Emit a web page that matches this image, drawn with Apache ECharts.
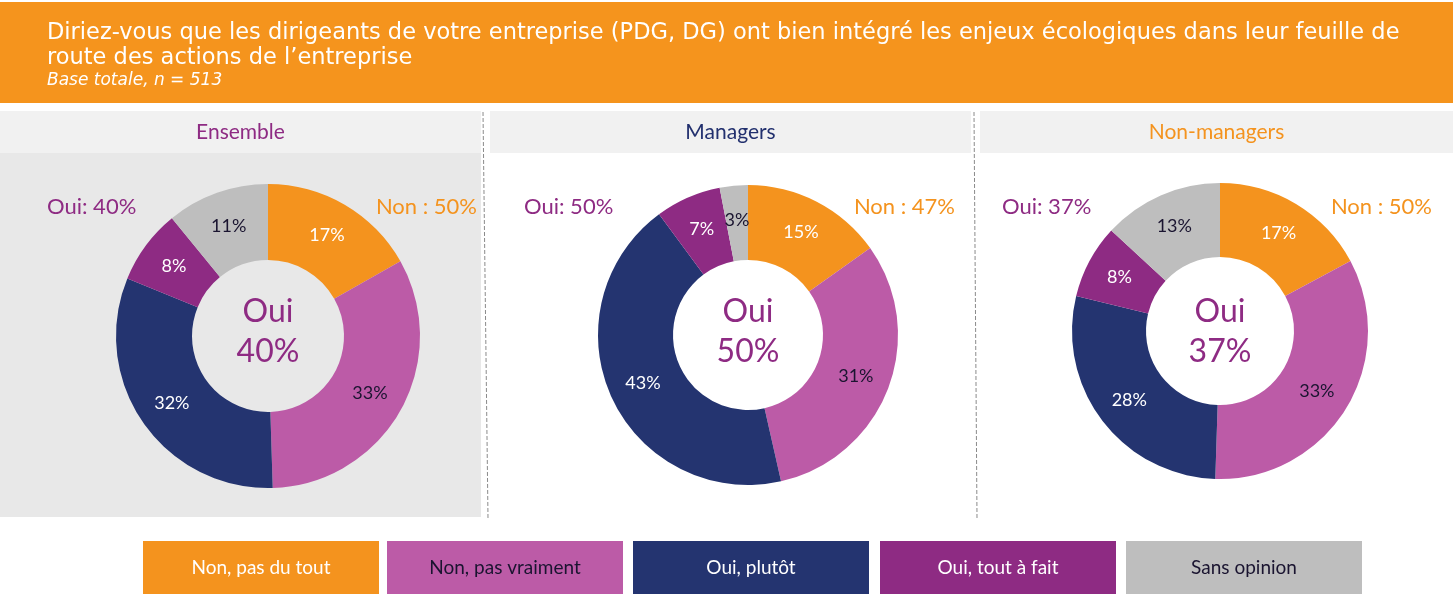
<!DOCTYPE html>
<html>
<head>
<meta charset="utf-8">
<script src="https://cdn.jsdelivr.net/npm/echarts@6/dist/echarts.min.js"></script>
<style>
html,body{margin:0;padding:0;background:#fff;}
#c{width:1453px;height:601px;}
</style>
</head>
<body>
<div id="c"></div>
<script>
const categories = ['Non, pas du tout', 'Non, pas vraiment', 'Oui, plutôt', 'Oui, tout à fait', 'Sans opinion'];
const groups = ['Ensemble', 'Managers', 'Non-managers'];
const ensembleValues = [17, 33, 32, 8, 11];
const managersValues = [15, 31, 43, 7, 3];
const nonManagersValues = [17, 33, 28, 8, 13];
const ouiTotals = [40, 50, 37];
const nonTotals = [50, 47, 50];
const titleLines = ['Diriez-vous que les dirigeants de votre entreprise (PDG, DG) ont bien intégré les enjeux écologiques dans leur feuille de', 'route des actions de l\u2019entreprise'];
const subtitle = 'Base totale, n = 513';

const colors = ['#F4931E', '#BC5BA7', '#243470', '#8E2B83', '#BEBEBE'];
const labelColors = ['#ffffff', '#1a1430', '#ffffff', '#ffffff', '#1a1430'];
const groupTitleColors = ['#8E2B83', '#22306E', '#F4931E'];
const FONT = 'Lato, "Open Sans", sans-serif';

const allValues = [ensembleValues, managersValues, nonManagersValues];
const panels = [
  {x: 0, w: 481, cx: 268, cy: 336, r0: 76, r: 152, bg: '#E8E8E8', ouiX: 47, nonX: 477},
  {x: 490, w: 481, cx: 748, cy: 335, r0: 75, r: 150, bg: '#FFFFFF', ouiX: 524, nonX: 955},
  {x: 980, w: 473, cx: 1220, cy: 331, r0: 74, r: 148, bg: '#FFFFFF', ouiX: 1002, nonX: 1432}
];

const chart = echarts.init(document.getElementById('c'), null, {renderer: 'canvas'});

const graphic = [];
// header band
graphic.push({type: 'rect', shape: {x: 0, y: 2, width: 1453, height: 101}, style: {fill: '#F5941D'}, z: 0});
titleLines.forEach((t, i) => {
  graphic.push({type: 'text', x: 47, y: 33 + i * 25, style: {text: t, fill: '#fff', font: '400 22.5px "DejaVu Sans", sans-serif', textVerticalAlign: 'middle'}, z: 1});
});
graphic.push({type: 'text', x: 47, y: 81, style: {text: subtitle, fill: '#fff', font: 'italic 400 17px "DejaVu Sans", sans-serif', textVerticalAlign: 'middle'}, z: 1});

panels.forEach((p, i) => {
  graphic.push({type: 'rect', shape: {x: p.x, y: 111, width: p.w, height: 406}, style: {fill: p.bg}, z: 0});
  graphic.push({type: 'rect', shape: {x: p.x, y: 111, width: p.w, height: 42}, style: {fill: '#F1F1F1'}, z: 0});
  graphic.push({type: 'text', x: p.x + p.w / 2, y: 132, style: {text: groups[i], fill: groupTitleColors[i], font: '400 21px ' + FONT, textAlign: 'center', textVerticalAlign: 'middle'}, z: 1});
  graphic.push({type: 'text', x: p.ouiX, y: 207, style: {text: 'Oui: ' + ouiTotals[i] + '%', fill: '#8E2B83', font: '400 22px ' + FONT, textAlign: 'left', textVerticalAlign: 'middle'}, z: 1});
  graphic.push({type: 'text', x: p.nonX, y: 207, style: {text: 'Non : ' + nonTotals[i] + '%', fill: '#F4931E', font: '400 22px ' + FONT, textAlign: 'right', textVerticalAlign: 'middle'}, z: 1});
  graphic.push({type: 'text', x: p.cx, y: 312, style: {text: 'Oui', fill: '#8E2B83', font: '400 32px ' + FONT, textAlign: 'center', textVerticalAlign: 'middle'}, z: 5});
  graphic.push({type: 'text', x: p.cx, y: 352, style: {text: ouiTotals[i] + '%', fill: '#8E2B83', font: '400 32px ' + FONT, textAlign: 'center', textVerticalAlign: 'middle'}, z: 5});
});
// dashed separators
[[483, 488], [974, 977]].forEach(([x1, x2]) => {
  graphic.push({type: 'line', shape: {x1: x1, y1: 112, x2: x2, y2: 518}, style: {stroke: '#8a8a8a', lineWidth: 1, lineDash: [4, 2]}, z: 1});
});
// legend boxes
const legendX = [143, 387, 633, 880, 1126];
categories.forEach((c, i) => {
  graphic.push({type: 'rect', shape: {x: legendX[i], y: 541, width: 236, height: 53}, style: {fill: colors[i]}, z: 0});
  graphic.push({type: 'text', x: legendX[i] + 118, y: 568, style: {text: c, fill: labelColors[i], font: '400 19px ' + FONT, textAlign: 'center', textVerticalAlign: 'middle'}, z: 1});
});

const series = panels.map((p, i) => ({
  type: 'pie',
  center: [p.cx, p.cy],
  radius: [p.r0, p.r],
  startAngle: 90,
  clockwise: true,
  avoidLabelOverlap: false,
  silent: true,
  animation: false,
  z: 3,
  label: {show: true, position: 'inside', formatter: '{c}%', fontSize: 18, fontFamily: FONT},
  labelLine: {show: false},
  itemStyle: {borderWidth: 0},
  data: allValues[i].map((v, k) => ({
    name: categories[k], value: v,
    itemStyle: {color: colors[k]},
    label: {color: labelColors[k]}
  }))
}));

chart.setOption({
  animation: false,
  graphic: {elements: graphic},
  series: series
});
</script>
</body>
</html>
